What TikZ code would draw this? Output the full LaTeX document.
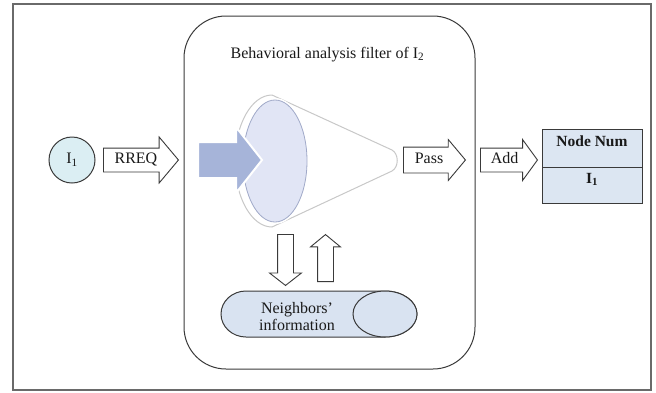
\documentclass[tikz,border=0pt]{standalone}
\usepackage{fontspec}
\setmainfont{Liberation Serif}
\usetikzlibrary{shapes.arrows}
\definecolor{linec}{HTML}{3A3A3A}
\definecolor{framec}{HTML}{6A6A6A}
\definecolor{circfill}{HTML}{DBEEF3}
\definecolor{tabfill}{HTML}{DCE6F2}
\definecolor{cylfill}{HTML}{D9E3F1}
\definecolor{ellfill}{HTML}{E1E5F5}
\definecolor{ellc}{HTML}{A0A9C8}
\definecolor{funnelc}{HTML}{C8C8C8}
\definecolor{bluearr}{HTML}{A6B4D9}
\newcommand\myfs{\fontsize{16}{17}\selectfont}
\newcommand\mybfs{\fontsize{15.5}{17}\selectfont\bfseries}
\begin{document}
\begin{tikzpicture}[x=1pt,y=-1pt,
  every node/.style={font=\myfs, text=black!90},
  blockarrow/.style={single arrow, draw=linec, fill=white, line width=0.9pt,
    inner xsep=2pt, text height=9pt, text depth=2pt, inner ysep=6pt, anchor=tail},
  vblock/.style={single arrow, draw=linec, fill=white, line width=0.9pt,
    text height=0pt, text depth=0pt, inner ysep=7.5pt, inner xsep=0pt, anchor=tail},
  cell/.style={draw=linec, fill=tabfill, line width=1.2pt, minimum width=100pt, inner sep=0pt, anchor=north west}
  ]
\useasboundingbox (0,0) rectangle (656,392);
\draw[framec, line width=1.3pt] (13,4) rectangle (651,390);

\node[draw=linec, line width=1pt, rounded corners=42pt, minimum width=291pt,
  minimum height=353pt, inner sep=0pt] (filter) at (329.5,192.5) {};
\node[anchor=base] (title) at (327.5,58) {Behavioral analysis filter of I\textsubscript{2}};

% funnel
\draw[funnelc, line width=1pt, fill=white] (272,95) .. controls (251.6,95) and (235,124.5) .. (235,161)
  .. controls (235,197.5) and (251.6,227) .. (272,227) -- (392,171)
  .. controls (399,167) and (399,154) .. (392,150) -- cycle;
\draw[white, line width=4pt] (275,161) ellipse [x radius=32, y radius=61];
\draw[ellc, fill=ellfill, line width=0.8pt] (275,161) ellipse [x radius=32, y radius=61];
\filldraw[fill=bluearr, draw=white, line width=2pt] (198,142) -- (236,142) -- (236,127) -- (262,160)
  -- (236,193) -- (236,178) -- (198,178) -- cycle;

% left part
\node[circle, draw=linec, fill=circfill, line width=1pt, minimum size=46pt, inner sep=0pt] (i1) at (72,160) {I\textsubscript{1}};
\node[blockarrow, minimum height=75pt, single arrow head extend=11pt, single arrow tip angle=100] (rreq) at (103,160) {RREQ};

% right part
\node[blockarrow, inner ysep=7pt, minimum height=62pt, single arrow head extend=7.5pt, single arrow tip angle=100] (pass) at (403,160) {Pass};
\node[blockarrow, minimum height=57pt, single arrow head extend=8.5pt, single arrow tip angle=108] (add) at (480,160) {Add};

\node[cell, minimum height=38pt] (tabtop) at (542,129) {};
\node[cell, minimum height=36pt] (tabbot) at (542,167) {};
\node[font=\mybfs, anchor=base] (nn) at (592,146) {Node Num};
\node[font=\mybfs, anchor=base] (ti1) at (592,183) {I\textsubscript{1}};

% vertical arrows
\node[vblock, minimum height=51pt, single arrow head extend=8pt, single arrow tip angle=104, rotate=-90] (down) at (285.5,234) {};
\node[vblock, minimum height=47pt, single arrow head extend=7pt, single arrow tip angle=101, rotate=90] (up) at (325.5,282) {};

% neighbors' cylinder
\draw[linec, fill=cylfill, line width=1pt] (246,291) -- (385,291)
  .. controls (402.7,291) and (417,301.3) .. (417,314)
  .. controls (417,326.7) and (402.7,337) .. (385,337) -- (246,337)
  .. controls (232.2,337) and (221,326.7) .. (221,314)
  .. controls (221,301.3) and (232.2,291) .. (246,291) -- cycle;
\draw[linec, fill=cylfill, line width=1pt] (385,314) ellipse [x radius=32, y radius=23];
\node[align=center] (neigh) at (297,316.5) {Neighbors’\\information};
\end{tikzpicture}
\end{document}
